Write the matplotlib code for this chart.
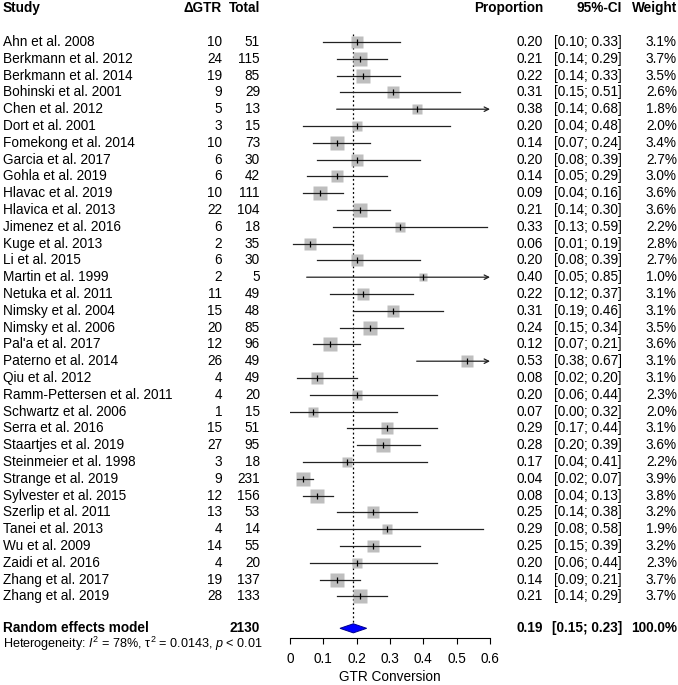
import matplotlib
matplotlib.use("Agg")
import matplotlib.pyplot as plt
from matplotlib.patches import Polygon
import numpy as np

plt.rcParams['font.family'] = ['Liberation Sans', 'DejaVu Sans']
plt.rcParams['mathtext.fontset'] = 'custom'
plt.rcParams['mathtext.rm'] = 'Liberation Sans'
plt.rcParams['mathtext.it'] = 'Liberation Sans:italic'

studies = ["Ahn et al. 2008", "Berkmann et al. 2012", "Berkmann et al. 2014", "Bohinski et al. 2001",
           "Chen et al. 2012", "Dort et al. 2001", "Fomekong et al. 2014", "Garcia et al. 2017",
           "Gohla et al. 2019", "Hlavac et al. 2019", "Hlavica et al. 2013", "Jimenez et al. 2016",
           "Kuge et al. 2013", "Li et al. 2015", "Martin et al. 1999", "Netuka et al. 2011",
           "Nimsky et al. 2004", "Nimsky et al. 2006", "Pal'a et al. 2017", "Paterno et al. 2014",
           "Qiu et al. 2012", "Ramm-Pettersen et al. 2011", "Schwartz et al. 2006", "Serra et al. 2016",
           "Staartjes et al. 2019", "Steinmeier et al. 1998", "Strange et al. 2019", "Sylvester et al. 2015",
           "Szerlip et al. 2011", "Tanei et al. 2013", "Wu et al. 2009", "Zaidi et al. 2016",
           "Zhang et al. 2017", "Zhang et al. 2019"]
events = [10, 24, 19, 9, 5, 3, 10, 6, 6, 10, 22, 6, 2, 6, 2, 11, 15, 20, 12, 26,
          4, 4, 1, 15, 27, 3, 9, 12, 13, 4, 14, 4, 19, 28]
totals = [51, 115, 85, 29, 13, 15, 73, 30, 42, 111, 104, 18, 35, 30, 5, 49, 48, 85, 96, 49,
          49, 20, 15, 51, 95, 18, 231, 156, 53, 14, 55, 20, 137, 133]
prop = [0.20, 0.21, 0.22, 0.31, 0.38, 0.20, 0.14, 0.20, 0.14, 0.09, 0.21, 0.33, 0.06, 0.20, 0.40, 0.22,
        0.31, 0.24, 0.12, 0.53, 0.08, 0.20, 0.07, 0.29, 0.28, 0.17, 0.04, 0.08, 0.25, 0.29, 0.25, 0.20,
        0.14, 0.21]
lower = [0.10, 0.14, 0.14, 0.15, 0.14, 0.04, 0.07, 0.08, 0.05, 0.04, 0.14, 0.13, 0.01, 0.08, 0.05, 0.12,
         0.19, 0.15, 0.07, 0.38, 0.02, 0.06, 0.00, 0.17, 0.20, 0.04, 0.02, 0.04, 0.14, 0.08, 0.15, 0.06,
         0.09, 0.14]
upper = [0.33, 0.29, 0.33, 0.51, 0.68, 0.48, 0.24, 0.39, 0.29, 0.16, 0.30, 0.59, 0.19, 0.39, 0.85, 0.37,
         0.46, 0.34, 0.21, 0.67, 0.20, 0.44, 0.32, 0.44, 0.39, 0.41, 0.07, 0.13, 0.38, 0.58, 0.39, 0.44,
         0.21, 0.29]
weights = [3.1, 3.7, 3.5, 2.6, 1.8, 2.0, 3.4, 2.7, 3.0, 3.6, 3.6, 2.2, 2.8, 2.7, 1.0, 3.1, 3.1, 3.5, 3.6, 3.1,
           3.1, 2.3, 2.0, 3.1, 3.6, 2.2, 3.9, 3.8, 3.2, 1.9, 3.2, 2.3, 3.7, 3.7]

re_total = 2130
re_est, re_lo, re_hi = 0.19, 0.15, 0.23
xticks = [0, 0.1, 0.2, 0.3, 0.4, 0.5, 0.6]

W, H = 678, 685
fs = 9.8
y0, dy = 42, 16.8
ytop, ybot = -y0 / dy, (H - y0) / dy

fig = plt.figure(figsize=(W / 100, H / 100), dpi=100)

# forest panel
ax = fig.add_axes([290 / W, 0, 200 / W, 1])
ax.set_xlim(0, 0.6)
ax.set_ylim(ybot, ytop)
ax.patch.set_alpha(0)
for s in ['top', 'right', 'left']:
    ax.spines[s].set_visible(False)
re_row = len(studies) + 0.9
ax.spines['bottom'].set_position(('data', re_row + 0.55))
ax.spines['bottom'].set_bounds(0, 0.6)
ax.spines['bottom'].set_linewidth(0.8)
ax.set_yticks([])
ax.set_xticks(xticks)
ax.set_xticklabels([f"{t:g}" for t in xticks], fontsize=fs)
ax.tick_params(axis='x', direction='out', length=4.5, width=0.8, pad=6)
ax.text(0.3, (677 - y0) / dy, "GTR Conversion", ha='center', va='center', fontsize=fs)

rows = np.arange(len(studies))
ax.plot([re_est, re_est], [-0.5, re_row + 0.3], color='black', ls=(0, (1.5, 2)), lw=0.9, zorder=1)
for i, (p, lo, hi, w) in enumerate(zip(prop, lower, upper, weights)):
    ax.plot(p, i, marker='s', ms=5.2 * np.sqrt(w), color='#bebebe', mec='none', zorder=2)
    if hi > 0.6:
        ax.annotate('', xy=(0.6, i), xytext=(lo, i),
                    arrowprops=dict(arrowstyle='->', lw=0.9, color='#222222', shrinkA=0, shrinkB=0,
                                    mutation_scale=8), zorder=3)
    else:
        ax.plot([lo, hi], [i, i], color='#222222', lw=0.9, zorder=3)
    ax.plot(p, i, marker='|', ms=4, mew=0.9, color='black', zorder=4)

ax.add_patch(Polygon([(re_lo, re_row), (re_est, re_row - 0.27), (re_hi, re_row), (re_est, re_row + 0.27)],
                     closed=True, facecolor='#0000ff', edgecolor='#00008b', lw=0.7, zorder=5))

# text columns
tx = fig.add_axes([0, 0, 1, 1])
tx.set_xlim(0, W)
tx.set_ylim(ybot, ytop)
tx.axis('off')
tx.patch.set_alpha(0)

hy = -2
bold = dict(fontsize=fs, fontweight='bold', va='center')
tx.text(3, hy, "Study", ha='left', **bold)
tx.text(222, hy, "ΔGTR", ha='right', **bold)
tx.text(260, hy, "Total", ha='right', **bold)
tx.text(543, hy, "Proportion", ha='right', **bold)
tx.text(622, hy, "95%-CI", ha='right', **bold)
tx.text(677, hy, "Weight", ha='right', **bold)

for i in rows:
    tx.text(3, i, studies[i], ha='left', va='center', fontsize=fs)
    tx.text(222, i, str(events[i]), ha='right', va='center', fontsize=fs)
    tx.text(260, i, str(totals[i]), ha='right', va='center', fontsize=fs)
    tx.text(543, i, f"{prop[i]:.2f}", ha='right', va='center', fontsize=fs)
    tx.text(622, i, f"[{lower[i]:.2f}; {upper[i]:.2f}]", ha='right', va='center', fontsize=fs)
    tx.text(677, i, f"{weights[i]:.1f}%", ha='right', va='center', fontsize=fs)

tx.text(3, re_row, "Random effects model", ha='left', **bold)
tx.text(260, re_row, str(re_total), ha='right', **bold)
tx.text(543, re_row, f"{re_est:.2f}", ha='right', **bold)
tx.text(622, re_row, f"[{re_lo:.2f}; {re_hi:.2f}]", ha='right', **bold)
tx.text(677, re_row, "100.0%", ha='right', **bold)
tx.text(3, re_row + 0.9, r"Heterogeneity: $I^2$ = 78%, τ$^2$ = 0.0143, $p$ < 0.01",
        ha='left', va='center', fontsize=fs * 0.93)

fig.savefig("out.png", dpi=100)
